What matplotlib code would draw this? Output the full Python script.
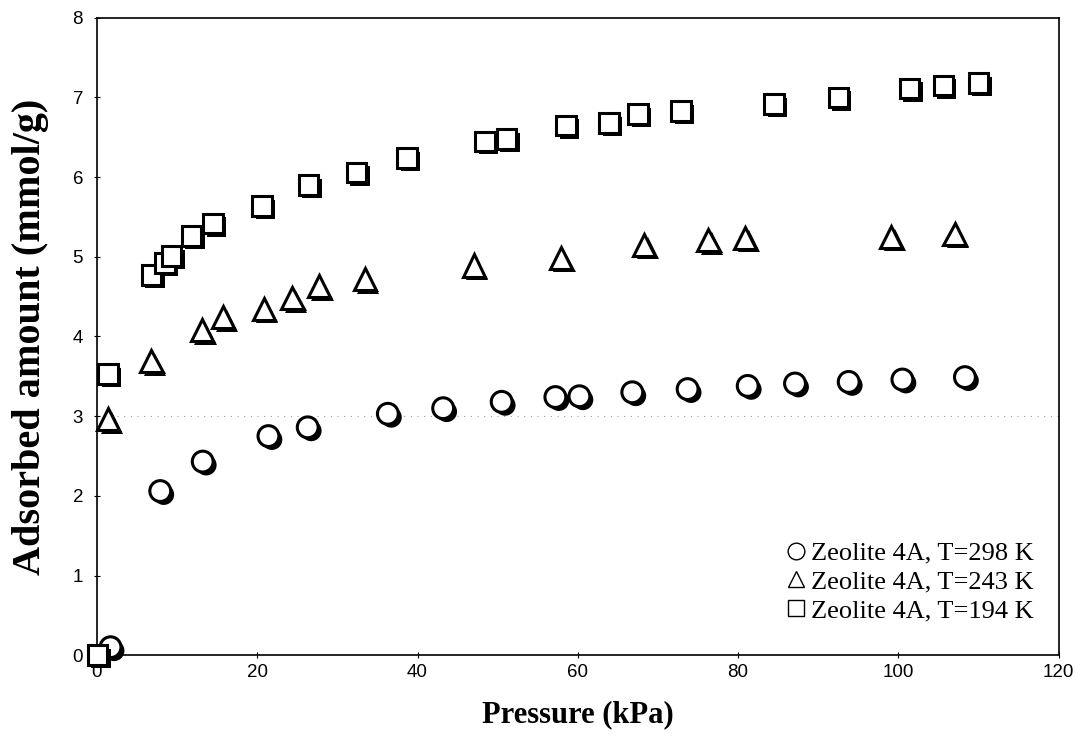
import matplotlib
matplotlib.use("Agg")
import matplotlib.pyplot as plt
import matplotlib.patheffects as pe
from matplotlib.lines import Line2D

# Zeolite 4A, T=298 K
p_298 = [1.7, 7.9, 13.2, 21.4, 26.3, 36.3, 43.2, 50.5, 57.2, 60.2, 66.8, 73.7, 81.2, 87.1, 93.8, 100.5, 108.3]
q_298 = [0.10, 2.06, 2.43, 2.75, 2.86, 3.03, 3.10, 3.18, 3.24, 3.25, 3.30, 3.34, 3.38, 3.41, 3.43, 3.46, 3.49]

# Zeolite 4A, T=243 K
p_243 = [1.4, 6.8, 13.1, 15.75, 20.8, 24.4, 27.7, 33.4, 47.0, 57.9, 68.3, 76.3, 80.9, 99.1, 107.0]
q_243 = [2.96, 3.69, 4.08, 4.24, 4.35, 4.48, 4.63, 4.72, 4.89, 4.99, 5.15, 5.21, 5.24, 5.25, 5.29]

# Zeolite 4A, T=194 K
p_194 = [0.1, 1.4, 6.8, 8.5, 9.3, 11.8, 14.5, 20.6, 26.4, 32.4, 38.7, 48.4, 51.1, 58.5, 63.9, 67.5, 72.9,
         84.5, 92.5, 101.4, 105.6, 110.0]
q_194 = [0.0, 3.53, 4.77, 4.92, 5.01, 5.26, 5.42, 5.64, 5.90, 6.06, 6.24, 6.45, 6.48, 6.65, 6.68, 6.79, 6.83,
         6.92, 7.00, 7.11, 7.15, 7.18]

labels = ["Zeolite 4A, T=298 K", "Zeolite 4A, T=243 K", "Zeolite 4A, T=194 K"]
markers = ["o", "^", "s"]
sizes = [15, 16, 14]

fig = plt.figure(figsize=(10.77, 7.42), dpi=100)
ax = fig.add_axes([0.090, 0.117, 0.893, 0.859])

shadow = [pe.SimplePatchShadow(offset=(2.5, -2.5), shadow_rgbFace="black", alpha=1.0), pe.Normal()]

series = [(p_298, q_298), (p_243, q_243), (p_194, q_194)]
for (x, y), m, s in zip(series, markers, sizes):
    ax.plot(x, y, linestyle="none", marker=m, markersize=s, markerfacecolor="white",
            markeredgecolor="black", markeredgewidth=2.2, path_effects=shadow, clip_on=False, zorder=3)

# faint dotted gridline at 3
ax.axhline(3, color="#999999", linestyle=(0, (1, 5)), linewidth=0.8, zorder=1)

ax.set_xlim(0, 120)
ax.set_ylim(0, 8)
ax.set_xticks(range(0, 121, 20))
ax.set_yticks(range(0, 9))
ax.tick_params(direction="inout", length=4, width=0.8, labelsize=13.5)
ax.tick_params(axis="x", pad=4)
ax.tick_params(axis="y", pad=8)
for lab in ax.get_xticklabels() + ax.get_yticklabels():
    lab.set_fontfamily("Liberation Sans")
for sp in ax.spines.values():
    sp.set_linewidth(1.2)

ax.set_xlabel("Pressure (kPa)", fontfamily="Liberation Serif", fontweight="bold", fontsize=22, labelpad=14)
ax.set_ylabel("Adsorbed amount (mmol/g)", fontfamily="Liberation Serif", fontweight="bold", fontsize=29, labelpad=17)

handles = [Line2D([], [], linestyle="none", marker=m, markersize=12, markerfacecolor="white",
                  markeredgecolor="black", markeredgewidth=1.0) for m in markers]
ax.legend(handles, labels, loc="lower right", bbox_to_anchor=(0.985, 0.035), frameon=False,
          prop={"family": "Liberation Serif", "size": 19}, handletextpad=0.0, handlelength=1.1,
          labelspacing=0.2, borderaxespad=0)

fig.savefig("out.png", dpi=100)
